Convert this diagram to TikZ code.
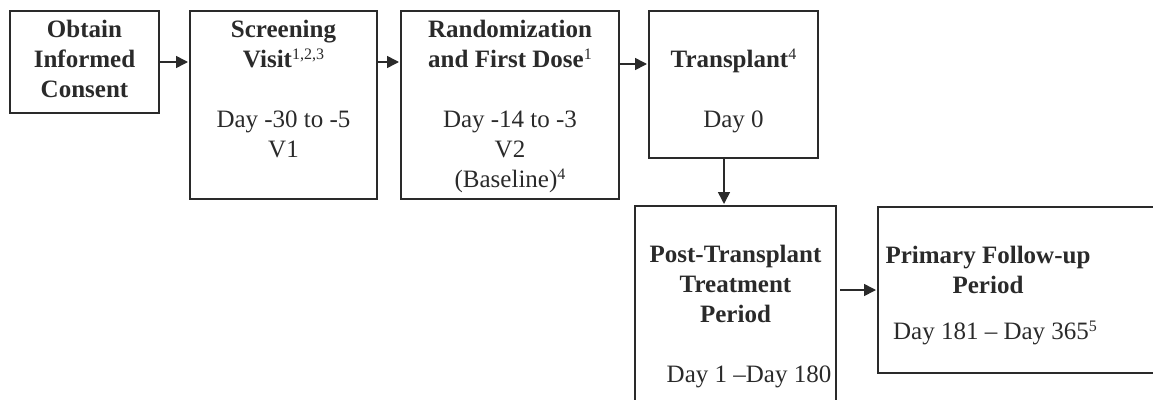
\documentclass[tikz,border=0pt]{standalone}
\usepackage{fontspec}
\setmainfont{Liberation Serif}
\usetikzlibrary{arrows.meta}
\definecolor{ink}{HTML}{2A2A2A}
\tikzset{
  box/.style={draw=ink, line width=1.6pt, inner sep=0pt, outer sep=0pt, text=ink},
  arr/.style={draw=ink, line width=1.6pt, -{Triangle[length=12pt,width=12pt]}, shorten >=2pt},
}
\newcommand{\boxtext}[3]{\parbox[c][#2][t]{#1}{\fontsize{25}{30}\selectfont\centering\rule{0pt}{26pt}#3}}
\newcommand{\supr}[1]{\raisebox{8pt}{\fontsize{16}{16}\selectfont #1}}
\begin{document}
\begin{tikzpicture}[x=1pt,y=-1pt]
\useasboundingbox (0,0) rectangle (1153,399);
\clip (0,0) rectangle (1153,399);
\node[box] (b1) at (84.5,62) {\boxtext{149pt}{102pt}{\textbf{Obtain}\\ \textbf{Informed}\\ \textbf{Consent}}};
\node[box] (b2) at (283.5,105) {\boxtext{187pt}{188pt}{\textbf{Screening}\\ \textbf{Visit}\supr{1,2,3}\\[30pt] Day -30 to -5\\ V1}};
\node[box] (b3) at (510,105) {\boxtext{218pt}{188pt}{\textbf{Randomization}\\ \textbf{and First Dose}\supr{1}\\[30pt] Day -14 to -3\\ V2\\ (Baseline)\supr{4}}};
\node[box] (b4) at (733.5,84.5) {\boxtext{169pt}{147pt}{\\ \textbf{Transplant}\supr{4}\\[30pt] Day 0}};
\node[box] (b5) at (735.5,318) {\boxtext{201pt}{224pt}{\\ \textbf{Post-Transplant}\\ \textbf{Treatment}\\ \textbf{Period}\\[30pt] \hspace*{27pt}Day 1 –Day 180}};
\node[box] (b6) at (1028,290) {\parbox[c][166pt][t]{300pt}{\fontsize{25}{30}\selectfont\raggedright\rule{0pt}{26pt}\\
  \makebox[220pt][c]{\textbf{Primary Follow-up}}\\
  \makebox[220pt][c]{\textbf{Period}}\\[16pt]
  \makebox[220pt][c]{\hspace*{14pt}Day 181 – Day 365\supr{5}}}};
\draw[arr] (b1.east) -- (b1.east -| b2.west);
\draw[arr] (b2.east |- b1.east) -- (b3.west |- b1.east);
\draw[arr] ([yshift=-2pt]b3.east |- b1.east) -- ([yshift=-2pt]b4.west |- b1.east);
\draw[arr] ([xshift=-9.5pt]b4.south) -- ([xshift=-9.5pt]b4.south |- b5.north);
\draw[arr] ([xshift=4pt]b5.east |- b6.west) -- (b6.west);
\end{tikzpicture}
\end{document}
